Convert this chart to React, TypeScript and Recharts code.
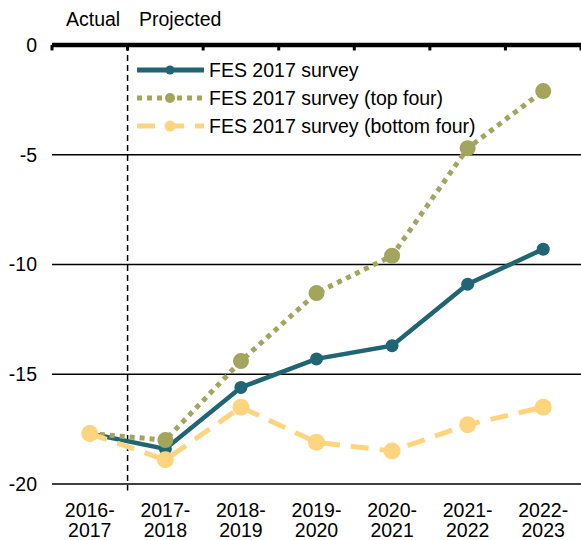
import { LineChart, Line, XAxis, YAxis, CartesianGrid, ReferenceLine, Legend } from "recharts"

const YEARS = ["2016-2017", "2017-2018", "2018-2019", "2019-2020", "2020-2021", "2021-2022", "2022-2023"]
const FES_ALL = [-17.7, -18.4, -15.6, -14.3, -13.7, -10.9, -9.3]
const FES_TOP = [-17.7, -18.0, -14.4, -11.3, -9.6, -4.7, -2.1]
const FES_BOTTOM = [-17.7, -18.9, -16.5, -18.1, -18.5, -17.3, -16.5]
const Y_TICKS = [0, -5, -10, -15, -20]

const FONT = "'Liberation Sans', Arial, sans-serif"
const FS = 19.5
const TEAL = "#1f6574"
const OLIVE = "#a3a55c"
const YELLOW = "#ffd47f"

const SERIES = [
  { key: "all", name: "FES 2017 survey", color: TEAL, dash: undefined, width: 4.5, r: 6.5, legendR: 4.5 },
  { key: "top", name: "FES 2017 survey (top four)", color: OLIVE, dash: "5 5", width: 5, r: 8, legendR: 5 },
  { key: "bottom", name: "FES 2017 survey (bottom four)", color: YELLOW, dash: "18 11", width: 5, r: 8.5, legendR: 5.5 },
]

const data = YEARS.map((year, i) => ({
  idx: i,
  year,
  all: FES_ALL[i],
  top: FES_TOP[i],
  bottom: FES_BOTTOM[i],
}))

// category boundaries, small tick marks hang off the zero line there
const boundaries = YEARS.map((_, i) => i - 0.5).concat(YEARS.length - 0.5)

function YearTick({ x, y, payload }: any) {
  const label = YEARS[payload.value]
  if (!label) return null
  const [a, b] = label.split("-")
  return (
    <text x={x} y={y} textAnchor="middle" fontFamily={FONT} fontSize={FS} fill="#000">
      <tspan x={x} dy={33}>{a}-</tspan>
      <tspan x={x} dy={20}>{b}</tspan>
    </text>
  )
}

function LegendBox() {
  return (
    <div style={{ fontFamily: FONT, fontSize: FS, color: "#000" }}>
      {SERIES.map((s) => (
        <div key={s.key} style={{ display: "flex", alignItems: "center", height: 28 }}>
          <svg width={72} height={28}>
            <line x1={0} y1={14} x2={67} y2={14} stroke={s.color} strokeWidth={5} strokeDasharray={s.dash} />
            <circle cx={33} cy={14} r={s.legendR} fill={s.color} />
          </svg>
          <span style={{ whiteSpace: "nowrap" }}>{s.name}</span>
        </div>
      ))}
    </div>
  )
}

export default function App() {
  return (
    <div style={{ position: "absolute", left: 0, top: 0, width: 581, height: 540, background: "#fff" }}>
      <div style={{ position: "absolute", left: 66, top: 8, fontFamily: FONT, fontSize: FS }}>Actual</div>
      <div style={{ position: "absolute", left: 139, top: 8, fontFamily: FONT, fontSize: FS }}>Projected</div>
      <LineChart width={581} height={540} data={data} margin={{ top: 45, right: 0, bottom: 0, left: 0 }}>
        <CartesianGrid vertical={false} stroke="#000" strokeWidth={1.3} />
        <XAxis
          dataKey="idx"
          type="number"
          domain={[-0.5, YEARS.length - 0.5]}
          ticks={YEARS.map((_, i) => i)}
          tick={<YearTick />}
          tickLine={false}
          axisLine={false}
          tickSize={0}
          tickMargin={0}
          height={56}
          interval={0}
        />
        <YAxis
          type="number"
          domain={[-20, 0]}
          ticks={Y_TICKS}
          width={52}
          axisLine={false}
          tickLine={false}
          tickSize={0}
          tickMargin={15}
          tick={{ fill: "#000", fontFamily: FONT, fontSize: FS }}
        />
        <ReferenceLine y={0} stroke="#000" strokeWidth={4.5} />
        {boundaries.map((b) => (
          <ReferenceLine
            key={b}
            segment={[{ x: b, y: 0 }, { x: b, y: -0.25 }]}
            stroke="#000"
            strokeWidth={3}
          />
        ))}
        <ReferenceLine
          segment={[{ x: 0.5, y: 0 }, { x: 0.5, y: -20.3 }]}
          ifOverflow="visible"
          stroke="#000"
          strokeWidth={1.5}
          strokeDasharray="6 4"
        />
        <Legend
          layout="vertical"
          align="center"
          verticalAlign="middle"
          wrapperStyle={{ left: 137, top: 56, width: "auto", height: "auto" }}
          content={() => <LegendBox />}
        />
        {SERIES.map((s) => (
          <Line
            key={s.key}
            dataKey={s.key}
            name={s.name}
            stroke={s.color}
            strokeWidth={s.width}
            strokeDasharray={s.dash}
            dot={{ r: s.r, fill: s.color, stroke: "none" }}
            activeDot={false}
            isAnimationActive={false}
          />
        ))}
      </LineChart>
    </div>
  )
}
